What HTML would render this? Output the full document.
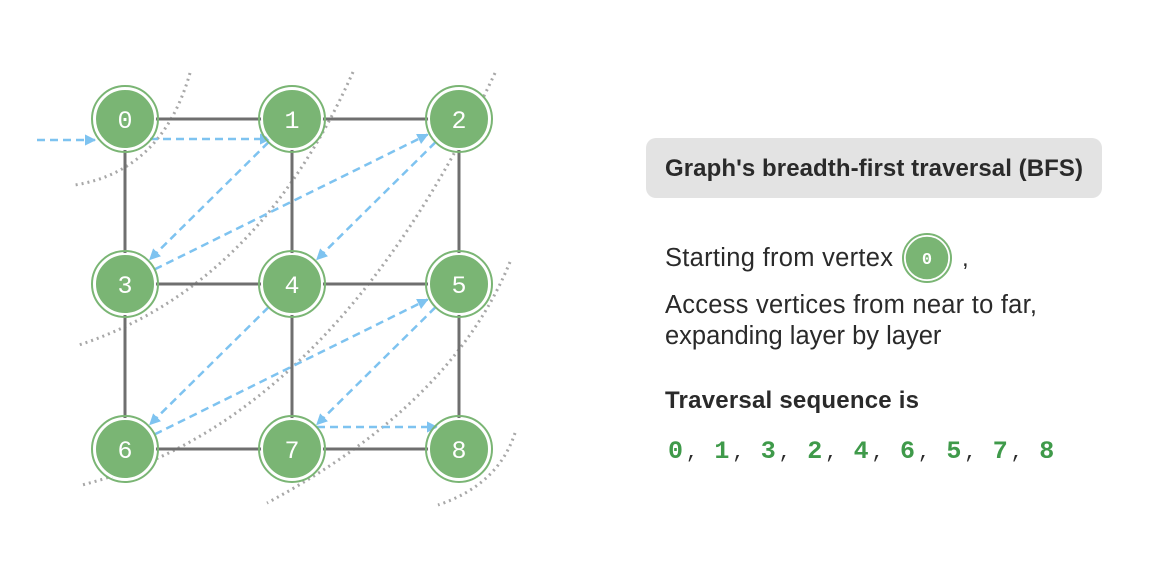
<!DOCTYPE html>
<html><head><meta charset="utf-8"><style>
body{margin:0;background:#fff;width:1152px;height:568px;overflow:hidden;font-family:"Liberation Sans",sans-serif}
</style></head><body>
<svg width="1152" height="568">
<defs><marker id="ah" viewBox="0 0 10 10" refX="9" refY="5" markerWidth="4.5" markerHeight="4.5" orient="auto"><path d="M0,0L10,5L0,10z" fill="#7ec3f0"/></marker></defs>
<g id="arcs" fill="none" stroke="#a8a8a8" stroke-width="3" stroke-dasharray="2,4"></g>
<g id="edges" stroke="#6f6f6f" stroke-width="3"></g>
<g id="arrows" fill="none" stroke="#7ec3f0" stroke-width="2.5" stroke-dasharray="8,5"></g>
<g id="nodes"></g>
<rect x="646" y="138" width="456" height="60" rx="10" fill="#e3e3e3"/>
<text x="665" y="176" font-size="24" font-weight="bold" fill="#2a2a2a" textLength="418">Graph's breadth-first traversal (BFS)</text>
<text x="665" y="266" font-size="25.5" fill="#2a2a2a" textLength="228">Starting from vertex</text>
<circle cx="927" cy="258" r="24" fill="none" stroke="#7ab574" stroke-width="2"/>
<circle cx="927" cy="258" r="22" fill="#7ab574" stroke="#fff" stroke-width="1.5"/>
<text x="927" y="264" font-size="17" font-weight="bold" font-family="Liberation Mono,monospace" fill="#fff" text-anchor="middle">0</text>
<text x="962" y="266" font-size="24" fill="#2a2a2a">,</text>
<text x="665" y="313" font-size="25.5" fill="#2a2a2a" textLength="372">Access vertices from near to far,</text>
<text x="665" y="344" font-size="25.5" fill="#2a2a2a">expanding layer by layer</text>
<text x="665" y="408" font-size="24" font-weight="bold" fill="#2a2a2a" textLength="254">Traversal sequence is</text>
<g id="seq" font-family="Liberation Mono,monospace" font-weight="bold" font-size="25"></g>
</svg>
<script>
const nodeLabels=[0,1,2,3,4,5,6,7,8];
const edgeList=[[0,1],[1,2],[3,4],[4,5],[6,7],[7,8],[0,3],[3,6],[1,4],[4,7],[2,5],[5,8]];
const order=[0,1,3,2,4,6,5,7,8];
const NS='http://www.w3.org/2000/svg';
function cx(i){return 125+(i%3)*167}
function cy(i){return 119+Math.floor(i/3)*165}
function mk(t,a,p){const e=document.createElementNS(NS,t);for(const k in a)e.setAttribute(k,a[k]);p.appendChild(e);return e}
const arcs=[["M190,73 Q162,171 75,185"],["M353,72 Q258,286 79,345"],["M495,73 Q332,421 82,485"],["M510,262 Q452,404 267,503"],["M515,433 Q498,485 438,505"]];
arcs.forEach(a=>{const e=mk('path',{d:a[0]},document.getElementById('arcs'));

});
edgeList.forEach(([a,b])=>{const e=mk('line',{x1:cx(a),y1:cy(a),x2:cx(b),y2:cy(b)},document.getElementById('edges'));

});
const ag=document.getElementById('arrows');
function arrow(x1,y1,x2,y2){const e=mk('line',{x1,y1,x2,y2,'marker-end':'url(#ah)'},ag);

}
arrow(37,140,95,140);
for(let k=0;k<order.length-1;k++){const a=order[k],b=order[k+1];
let x1=cx(a),y1=cy(a),x2=cx(b),y2=cy(b);
if(y1===y2){const off=y1<200?20:-22;arrow(x1+25,y1+off,x2-22,y2+off);}else{
const dx=x2-x1,dy=y2-y1,L=Math.hypot(dx,dy);
arrow(x1+dx/L*33,y1+dy/L*33,x2-dx/L*35,y2-dy/L*35);}}
const ng=document.getElementById('nodes');
nodeLabels.forEach(i=>{const g=mk('g',{},ng);


mk('circle',{cx:cx(i),cy:cy(i),r:33,fill:'none',stroke:'#7ab574','stroke-width':2},g);
mk('circle',{cx:cx(i),cy:cy(i),r:30,fill:'#7ab574',stroke:'#fff','stroke-width':2},g);
const t=mk('text',{x:cx(i),y:cy(i)+9,'text-anchor':'middle','font-size':25,'font-family':'Liberation Mono,monospace',fill:'#fff'},g);t.textContent=i;});
const sg=document.getElementById('seq');
order.forEach((v,k)=>{const t=mk('text',{x:668+k*46.4,y:458,fill:'#3f9a4a'},sg);t.textContent=v;


if(k<order.length-1){const c=mk('text',{x:686+k*46.4,y:458,fill:'#2a2a2a','font-weight':'normal','font-size':20},sg);c.textContent=',';}});
</script>
</body></html>
